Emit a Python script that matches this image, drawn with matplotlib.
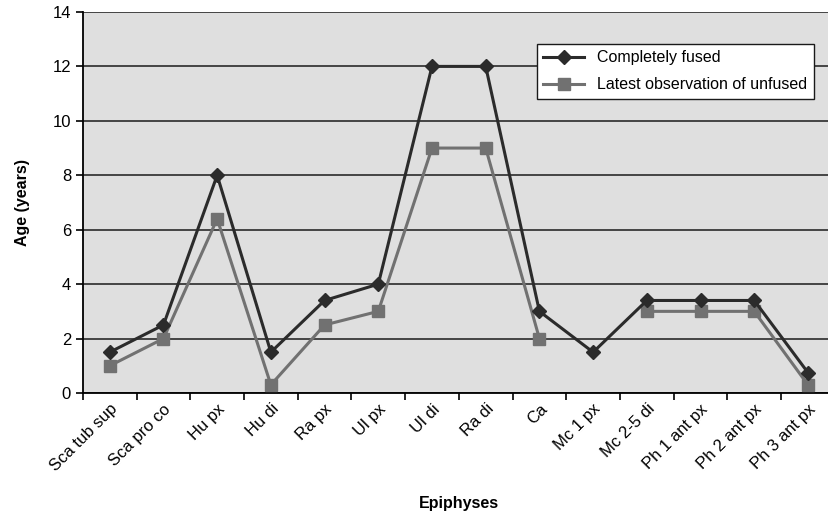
import numpy as np
import matplotlib.pyplot as plt
from matplotlib.ticker import FixedLocator, NullFormatter
from matplotlib.transforms import ScaledTranslation

plt.rcParams['font.family'] = ['Liberation Sans', 'DejaVu Sans']

epiphyses = ['Sca tub sup', 'Sca pro co', 'Hu px', 'Hu di', 'Ra px', 'Ul px', 'Ul di',
             'Ra di', 'Ca', 'Mc 1 px', 'Mc 2-5 di', 'Ph 1 ant px', 'Ph 2 ant px', 'Ph 3 ant px']
fused = [1.5, 2.5, 8, 1.5, 3.4, 4, 12, 12, 3, 1.5, 3.4, 3.4, 3.4, 0.75]
unfused = [1, 2, 6.4, 0.3, 2.5, 3, 9, 9, 2, np.nan, 3, 3, 3, 0.3]

fig = plt.figure(figsize=(8.29, 5.14), dpi=100)
ax = fig.add_axes([0.100, 0.2354, 0.907, 0.7413])
ax.set_facecolor('#dfdfdf')

x = np.arange(len(epiphyses))
ax.plot(x, fused, color='#2b2b2b', lw=2.2, marker='D', ms=7.5,
        mfc='#2b2b2b', mec='#2b2b2b', label='Completely fused', zorder=4)
ax.plot(x, unfused, color='#717171', lw=2.2, marker='s', ms=8,
        mfc='#717171', mec='#717171', label='Latest observation of unfused', zorder=3)

ax.set_xlim(-0.5, len(epiphyses) - 0.5)
ax.set_ylim(0, 14)
ax.set_yticks(np.arange(0, 15, 2))
ax.yaxis.grid(True, color='#1a1a1a', lw=1.1)
ax.set_axisbelow(True)

# ticks between categories, labels centred on them
ax.xaxis.set_major_locator(FixedLocator(np.arange(-0.5, len(epiphyses), 1)))
ax.xaxis.set_major_formatter(NullFormatter())
ax.set_xticks(x, minor=True)
ax.set_xticklabels(epiphyses, minor=True, rotation=45, ha='right',
                   rotation_mode='anchor', fontsize=12)
shift = ScaledTranslation(-0.12, -0.06, fig.dpi_scale_trans)
for lbl in ax.get_xticklabels(minor=True):
    lbl.set_transform(lbl.get_transform() + shift)
ax.tick_params(axis='x', which='minor', length=0, pad=6)
ax.tick_params(axis='x', which='major', length=5, width=1.2, direction='out')
ax.tick_params(axis='y', length=5, width=1.2, direction='out', labelsize=12)

for s in ['top', 'right']:
    ax.spines[s].set_visible(False)
ax.spines['left'].set_linewidth(1.3)
ax.spines['bottom'].set_linewidth(1.3)

ax.set_ylabel('Age (years)', fontsize=11.5, fontweight='bold', labelpad=16)
ax.set_xlabel('Epiphyses', fontsize=11.5, fontweight='bold', labelpad=16)

leg = ax.legend(loc='upper right', bbox_to_anchor=(0.972, 0.916), fontsize=11.5,
                frameon=True, fancybox=False, edgecolor='#1a1a1a', framealpha=1,
                borderpad=0.4, handlelength=2.6, labelspacing=0.75, borderaxespad=0)
leg.get_frame().set_linewidth(1.0)

fig.savefig('out.png', dpi=100)
